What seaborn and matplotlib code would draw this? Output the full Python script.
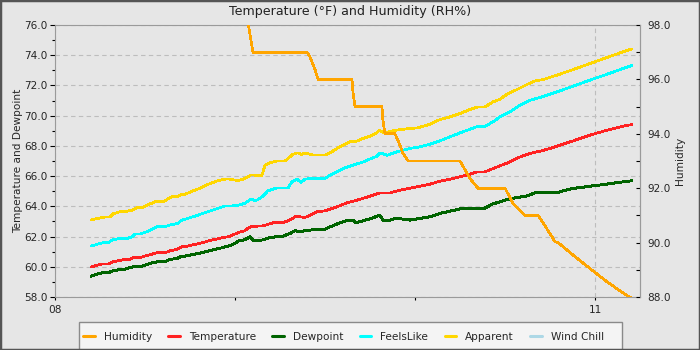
import matplotlib
matplotlib.use("Agg")
import matplotlib.pyplot as plt
from matplotlib.patches import Rectangle
from matplotlib.lines import Line2D
from matplotlib.ticker import MultipleLocator, FixedLocator, FixedFormatter, FormatStrFormatter
import pandas as pd
import seaborn as sns

# ---- readings (time in minutes after 08:00) ----
temp_min = [12.0, 14.0, 15.7, 17.7, 19.0, 21.0, 23.3, 25.0, 26.0, 28.3, 30.0, 31.7, 34.0, 36.7,
            38.3, 40.7, 42.3, 43.3, 45.7, 49.0, 52.3, 55.7, 58.3, 60.0, 61.7, 63.3, 64.3, 65.7,
            69.3, 72.7, 75.7, 78.3, 80.0, 81.7, 83.3, 85.0, 87.3, 90.0, 94.0, 97.3, 100.7, 105.0,
            108.3, 111.7, 115.0, 118.3, 121.7, 125.0, 128.3, 131.7, 135.0, 138.3, 140.7, 143.3,
            146.0, 148.3, 151.7, 155.0, 158.3, 161.7, 165.0, 168.3, 172.7, 178.3, 184.0, 189.3, 192.3]
temperature = [59.98, 60.11, 60.18, 60.18, 60.31, 60.40, 60.49, 60.49, 60.60, 60.60, 60.71, 60.80,
               60.93, 60.93, 61.06, 61.15, 61.33, 61.33, 61.44, 61.59, 61.77, 61.92, 62.01, 62.17,
               62.30, 62.39, 62.54, 62.67, 62.71, 62.91, 62.91, 63.09, 63.31, 63.31, 63.26, 63.42,
               63.64, 63.70, 63.97, 64.23, 64.41, 64.67, 64.89, 64.89, 65.07, 65.20, 65.33, 65.47,
               65.66, 65.80, 65.95, 66.13, 66.28, 66.28, 66.50, 66.68, 66.94, 67.27, 67.50, 67.65,
               67.83, 68.05, 68.33, 68.71, 69.04, 69.30, 69.41]

dew_min = [12.0, 14.0, 15.7, 17.7, 19.0, 21.0, 22.7, 24.3, 26.0, 28.3, 30.0, 31.7, 34.0, 36.7,
           38.3, 40.7, 42.3, 43.3, 45.7, 49.0, 52.3, 55.7, 58.3, 60.0, 61.0, 63.3, 65.0, 66.0,
           67.3, 69.3, 71.7, 76.0, 78.3, 80.0, 81.7, 83.3, 86.7, 90.0, 91.7, 95.0, 97.7, 99.3,
           100.3, 102.7, 106.0, 108.3, 109.3, 111.7, 114.0, 116.0, 118.3, 121.7, 125.0, 128.3,
           131.7, 135.0, 138.3, 143.3, 145.7, 148.3, 150.7, 154.0, 157.3, 160.0, 167.3, 169.3,
           172.7, 178.3, 184.0, 189.3, 192.3]
dewpoint = [59.38, 59.51, 59.60, 59.60, 59.71, 59.80, 59.80, 59.91, 60.00, 60.00, 60.11, 60.22,
            60.33, 60.33, 60.49, 60.55, 60.71, 60.71, 60.80, 60.93, 61.10, 61.26, 61.40, 61.55,
            61.70, 61.79, 61.99, 61.74, 61.72, 61.78, 61.94, 62.03, 62.20, 62.38, 62.34, 62.38,
            62.47, 62.49, 62.64, 62.91, 63.09, 63.09, 62.91, 63.04, 63.24, 63.42, 63.09, 63.09,
            63.22, 63.15, 63.09, 63.20, 63.31, 63.53, 63.68, 63.83, 63.88, 63.88, 64.14, 64.30,
            64.45, 64.58, 64.69, 64.89, 64.89, 65.03, 65.18, 65.33, 65.47, 65.62, 65.69]

feels_min = [12.0, 14.3, 16.0, 17.7, 19.0, 21.0, 24.0, 25.7, 26.7, 28.3, 30.7, 32.3, 34.0, 36.7,
             38.3, 41.0, 42.3, 44.3, 47.7, 51.0, 54.3, 56.7, 59.3, 61.0, 63.3, 65.3, 66.3, 67.3,
             69.0, 71.0, 74.0, 77.7, 79.0, 80.7, 82.0, 83.3, 86.0, 90.0, 92.7, 96.0, 99.3, 102.7,
             107.3, 108.3, 110.7, 114.0, 118.3, 121.7, 125.0, 128.3, 131.7, 135.0, 138.3, 141.0,
             143.3, 146.0, 148.3, 151.7, 155.0, 158.3, 161.7, 167.3, 172.7, 178.3, 184.0, 189.3, 192.3]
feels_like = [61.37, 61.50, 61.59, 61.59, 61.77, 61.86, 61.86, 61.99, 62.17, 62.17, 62.32, 62.48,
              62.65, 62.65, 62.76, 62.87, 63.09, 63.20, 63.42, 63.65, 63.87, 64.02, 64.03, 64.07,
              64.20, 64.48, 64.41, 64.41, 64.63, 65.03, 65.22, 65.22, 65.62, 65.80, 65.58, 65.80,
              65.86, 65.86, 66.17, 66.50, 66.72, 66.94, 67.32, 67.54, 67.38, 67.61, 67.83, 67.94,
              68.11, 68.33, 68.60, 68.86, 69.10, 69.30, 69.30, 69.59, 69.92, 70.25, 70.69, 71.02,
              71.20, 71.57, 71.95, 72.35, 72.74, 73.12, 73.32]

appar_min = [12.0, 14.3, 16.7, 18.3, 19.3, 21.7, 23.3, 25.7, 27.3, 29.0, 31.0, 33.3, 36.0, 37.7,
             39.3, 40.7, 42.3, 43.3, 45.7, 48.3, 51.0, 54.3, 56.7, 58.3, 61.0, 63.3, 65.3, 66.7,
             69.0, 70.0, 71.7, 74.0, 76.7, 78.3, 79.3, 81.0, 82.3, 83.3, 86.0, 90.0, 91.7, 94.0,
             96.7, 98.3, 100.0, 102.7, 105.0, 107.3, 108.0, 109.7, 112.7, 115.0, 118.3, 120.7,
             123.3, 125.0, 128.3, 131.7, 135.0, 138.3, 141.0, 143.3, 146.0, 148.3, 150.7, 154.0,
             157.3, 160.0, 162.7, 167.3, 172.7, 178.3, 184.0, 189.3, 192.3]
apparent = [63.10, 63.20, 63.30, 63.30, 63.50, 63.65, 63.65, 63.75, 63.90, 63.90, 64.10, 64.30,
            64.30, 64.50, 64.65, 64.65, 64.80, 64.80, 65.00, 65.20, 65.45, 65.70, 65.80, 65.80,
            65.70, 65.84, 66.08, 66.06, 66.06, 66.72, 66.88, 67.00, 67.00, 67.27, 67.45, 67.54,
            67.43, 67.54, 67.40, 67.40, 67.54, 67.83, 68.11, 68.27, 68.27, 68.49, 68.64, 68.86,
            69.04, 68.86, 69.00, 69.08, 69.15, 69.19, 69.33, 69.44, 69.74, 69.92, 70.14, 70.41,
            70.58, 70.58, 70.91, 71.09, 71.42, 71.73, 72.06, 72.30, 72.39, 72.68, 73.05, 73.45,
            73.85, 74.22, 74.42]

hum_min = [12.0, 30.0, 45.0, 60.0, 63.3, 65.3, 66.0, 84.0, 85.0, 86.7, 87.7, 99.0, 99.3, 100.0,
           109.0, 109.3, 110.0, 113.3, 114.3, 116.0, 117.7, 135.0, 138.3, 141.0, 150.0, 152.7,
           156.7, 161.0, 164.0, 166.7, 167.7, 172.7, 178.3, 184.0, 189.3, 192.3]
humidity = [100.8, 100.3, 99.7, 99.2, 98.8, 97.45, 97.0, 97.0, 96.83, 96.35, 96.0, 96.0, 95.55,
            95.0, 95.0, 94.5, 94.0, 94.0, 93.77, 93.28, 93.0, 93.0, 92.36, 92.0, 92.0, 91.44,
            91.0, 91.0, 90.5, 90.03, 90.0, 89.54, 89.05, 88.56, 88.15, 87.95]

wind_chill_min = []
wind_chill = []

hour_ticks = [0, 180]
hour_labels = ["08", "11"]
hour_minor_ticks = [60, 120]

series_names = ["Humidity", "Temperature", "Dewpoint", "FeelsLike", "Apparent", "Wind Chill"]
series_colors = ["#FFA500", "#FF2222", "#006400", "#00FFFF", "#FFD700", "#ADD8E6"]

# ---- style ----
sns.set_style("white")
plt.rcParams["font.family"] = ["DejaVu Sans"]
bg = "#e6e6e6"
grid_c = "#bdbdbd"
spine_c = "#9a9a9a"
fs = 7.6

fig = plt.figure(figsize=(7, 3.5), dpi=100, facecolor=bg)
W, H = 700.0, 350.0
ax = fig.add_axes([55 / W, 1 - 297 / H, 585 / W, 272 / H])
ax.set_facecolor(bg)
ax2 = ax.twinx()
ax2.patch.set_visible(False)

lw = 1.25
left_series = [
    (temp_min, temperature, "Temperature", "#FF2222", lw),
    (dew_min, dewpoint, "Dewpoint", "#006400", 1.4),
    (feels_min, feels_like, "FeelsLike", "#00FFFF", lw),
    (appar_min, apparent, "Apparent", "#FFD700", lw),
]
for xs, ys, name, col, w in left_series:
    df = pd.DataFrame({"minute": xs, "value": ys})
    sns.lineplot(data=df, x="minute", y="value", ax=ax, color=col, linewidth=w,
                 estimator=None, sort=False, legend=False, antialiased=False)
ax.plot(wind_chill_min, wind_chill, color="#ADD8E6", linewidth=lw)

hdf = pd.DataFrame({"minute": hum_min, "value": humidity})
sns.lineplot(data=hdf, x="minute", y="value", ax=ax2, color="#FFA500", linewidth=1.2,
             estimator=None, sort=False, legend=False, antialiased=False)

# ---- axes ----
ax.set_xlim(0, 195)
ax.set_ylim(58, 76)
ax2.set_ylim(88, 98)

ax.xaxis.set_major_locator(FixedLocator(hour_ticks))
ax.xaxis.set_major_formatter(FixedFormatter(hour_labels))
ax.xaxis.set_minor_locator(FixedLocator(hour_minor_ticks))
ax.yaxis.set_major_locator(MultipleLocator(2))
ax.yaxis.set_minor_locator(MultipleLocator(1))
ax.yaxis.set_major_formatter(FormatStrFormatter("%.1f"))
ax2.yaxis.set_major_locator(MultipleLocator(2))
ax2.yaxis.set_minor_locator(MultipleLocator(1))
ax2.yaxis.set_major_formatter(FormatStrFormatter("%.1f"))

ax.grid(True, axis="y", which="major", color=grid_c, linestyle=(0, (4, 3)), linewidth=0.8)
ax.grid(True, axis="x", which="major", color=grid_c, linestyle=(0, (4, 3)), linewidth=0.8)
ax.set_axisbelow(True)

ax.tick_params(axis="y", which="major", direction="out", length=3.8, width=0.8,
               color="black", labelsize=fs, pad=1.5, left=True)
ax.tick_params(axis="y", which="minor", direction="out", length=2.0, width=0.8,
               color="black", left=True)
ax.tick_params(axis="x", which="both", direction="out", length=2.3, width=0.8,
               color="black", labelsize=fs, pad=3.5, bottom=True)
ax2.tick_params(axis="y", which="major", direction="in", length=3.2, width=0.8,
                color="black", labelsize=fs, pad=5, right=True)
ax2.tick_params(axis="y", which="minor", direction="in", length=2.6, width=0.8,
                color="black", right=True)

for a in (ax, ax2):
    for s in a.spines.values():
        s.set_color(spine_c)
        s.set_linewidth(0.8)
for s in ("left", "top", "bottom"):
    ax2.spines[s].set_visible(False)

ax.set_xlabel("")
ax.set_ylabel("Temperature and Dewpoint", fontsize=fs, labelpad=0.5)
ax2.set_ylabel("Humidity", fontsize=fs, labelpad=3)

fig.text(0.5, 1 - 12 / H, "Temperature (°F) and Humidity (RH%)", ha="center", va="center",
         fontsize=9.1, color="#222222")

# ---- legend ----
fig.patches.append(Rectangle((79 / W, -0.01), (622 - 79) / W, (350 - 322) / H + 0.01,
                             transform=fig.transFigure, facecolor="#f4f4f4",
                             edgecolor="#8a8a8a", linewidth=1.0, zorder=1))
handles = [Line2D([], [], color=c, linewidth=2.2) for c in series_colors]
fig.legend(handles, series_names, loc="center left", bbox_to_anchor=(83 / W, 1 - 337 / H),
           ncol=6, frameon=False, fontsize=fs, handlelength=1.1, handletextpad=0.85,
           columnspacing=1.55, borderpad=0, borderaxespad=0)

# dark outer frame
fig.patches.append(Rectangle((0, 0), 1, 1, transform=fig.transFigure, fill=False,
                             edgecolor="#555555", linewidth=2.5, zorder=10))

fig.savefig("out.png", dpi=100, facecolor=fig.get_facecolor())
